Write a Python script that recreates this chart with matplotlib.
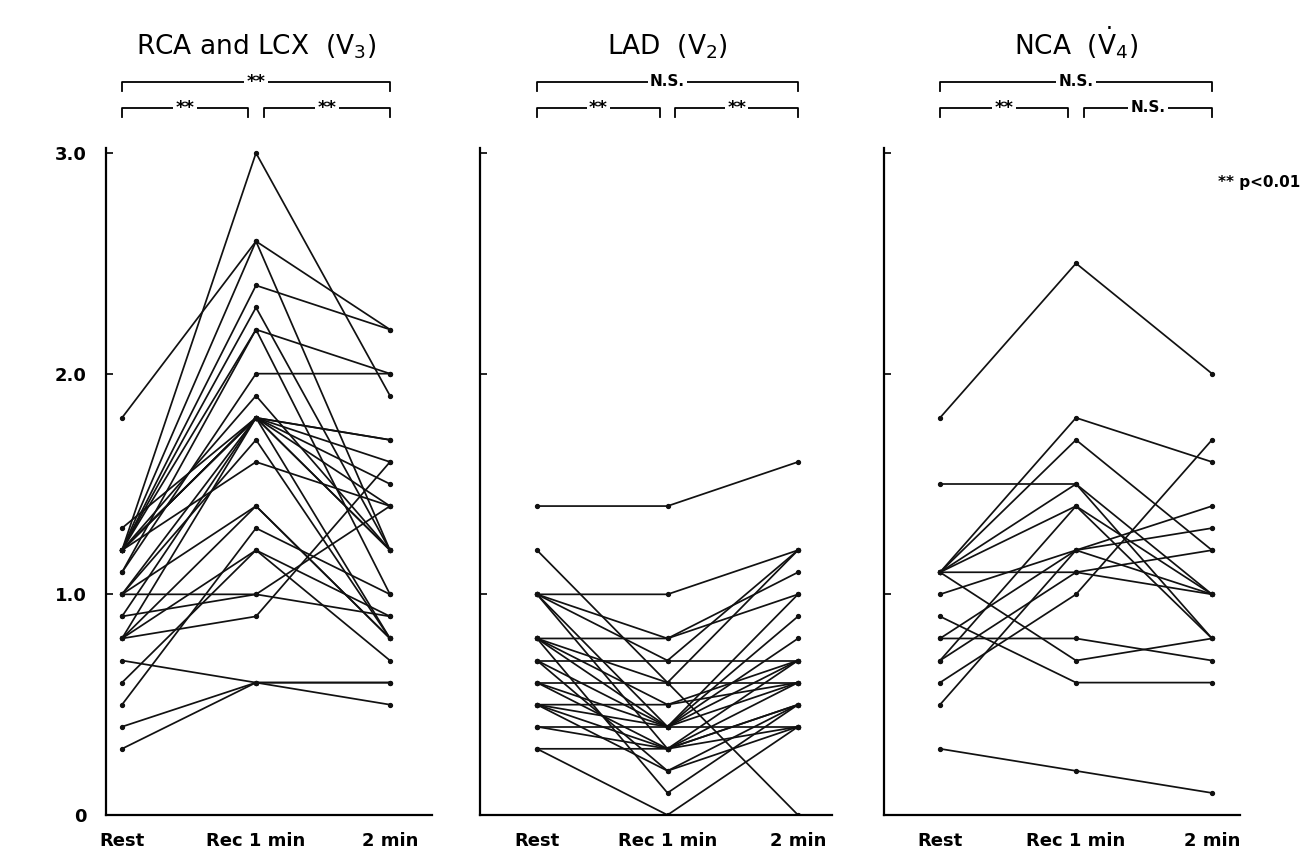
import matplotlib
matplotlib.use('Agg')
import matplotlib.pyplot as plt

stages = ['Rest', 'Rec 1 min', '2 min']

# RCA and LCX (V3): rest, rec 1 min, 2 min for each patient
rca_rest = [1.8, 1.2, 1.2, 1.2, 1.2, 1.2, 1.1, 1.2, 1.2, 1.2, 1.0, 0.9, 0.8, 1.2, 1.3,
            1.0, 1.2, 0.8, 0.5, 0.8, 1.0, 0.8, 0.7, 0.4, 0.3, 0.6, 0.9, 1.1, 1.2, 1.0]
rca_rec1 = [2.6, 3.0, 2.6, 2.4, 2.3, 2.2, 2.0, 1.9, 1.8, 1.8, 1.8, 1.8, 1.8, 1.8, 1.8,
            1.7, 1.6, 1.4, 1.3, 1.2, 1.0, 0.9, 0.6, 0.6, 0.6, 1.2, 1.0, 2.2, 1.8, 1.4]
rca_min2 = [2.2, 1.9, 1.2, 2.2, 1.2, 2.0, 2.0, 1.2, 1.7, 1.7, 1.6, 1.5, 1.4, 0.8, 1.2,
            0.8, 1.4, 0.8, 1.0, 0.7, 1.4, 1.6, 0.6, 0.5, 0.6, 0.9, 0.9, 1.0, 1.2, 0.8]

# LAD (V2)
lad_rest = [1.4, 1.2, 1.0, 1.0, 1.0, 1.0, 1.0, 0.8, 0.8, 0.8, 0.8, 0.7, 0.7, 0.7,
            0.6, 0.6, 0.6, 0.5, 0.5, 0.5, 0.4, 0.4, 0.3, 0.3, 0.5, 0.8]
lad_rec1 = [1.4, 0.6, 1.0, 0.8, 0.7, 0.4, 0.3, 0.8, 0.5, 0.1, 0.4, 0.7, 0.4, 0.2,
            0.6, 0.4, 0.3, 0.5, 0.3, 0.2, 0.4, 0.3, 0.3, 0.0, 0.4, 0.6]
lad_min2 = [1.6, 0.0, 1.2, 1.0, 1.2, 0.8, 0.6, 1.1, 0.7, 0.5, 0.6, 0.7, 0.9, 0.5,
            0.6, 0.7, 0.4, 0.6, 0.5, 0.4, 0.4, 0.7, 0.5, 0.4, 1.0, 1.2]

# NCA (V4)
nca_rest = [1.8, 1.5, 1.1, 1.1, 1.1, 1.1, 1.1, 1.0, 0.9, 0.8, 0.8, 0.7, 0.6, 0.5,
            0.3, 1.1, 0.7]
nca_rec1 = [2.5, 1.5, 1.8, 1.7, 1.4, 1.1, 0.7, 1.2, 0.6, 0.8, 1.2, 1.1, 1.0, 1.2,
            0.2, 1.5, 1.4]
nca_min2 = [2.0, 0.8, 1.6, 1.2, 0.8, 1.0, 0.8, 1.4, 0.6, 0.7, 1.3, 1.2, 1.7, 1.0,
            0.1, 1.0, 1.0]

titles = ['RCA and LCX  (V$_3$)', 'LAD  (V$_2$)', 'NCA  ($\\dot{\\mathrm{V}}_4$)']
sig_all = ['**', 'N.S.', 'N.S.']
sig_left = ['**', '**', '**']
sig_right = ['**', '**', 'N.S.']

W, H = 1305, 868
fig = plt.figure(figsize=(W / 100, H / 100), dpi=100)

# panel geometry in pixels: left spine, x of Rest, x of 2 min, right end
panels = [(106, 122, 390, 432), (480, 537, 798, 832), (884, 940, 1212, 1240)]
y0, y3 = 815, 153   # pixel rows of 0 and 3.0
ytop = 148

data = [(rca_rest, rca_rec1, rca_min2),
        (lad_rest, lad_rec1, lad_min2),
        (nca_rest, nca_rec1, nca_min2)]

for i, (left, xr, x2, right) in enumerate(panels):
    ppu = (x2 - xr) / 2.0
    ax = fig.add_axes([left / W, (H - y0) / H, (right - left) / W, (y0 - ytop) / H])
    ax.set_xlim((left - xr) / ppu, (right - xr) / ppu)
    yppu = (y0 - y3) / 3.0
    ax.set_ylim(0, (y0 - ytop) / yppu)

    rest, rec1, min2 = data[i]
    for a, b, c in zip(rest, rec1, min2):
        ax.plot([0, 1, 2], [a, b, c], color='#111111', lw=1.25, marker='o', ms=2.8,
                solid_joinstyle='miter')

    for s in ['top', 'right']:
        ax.spines[s].set_visible(False)
    for s in ['left', 'bottom']:
        ax.spines[s].set_linewidth(1.6)
    ax.set_xticks([0, 1, 2])
    ax.set_xticklabels(stages, fontsize=13, fontweight='bold')
    ax.tick_params(axis='x', length=0, pad=12)
    ax.set_yticks([0, 1, 2, 3])
    ax.tick_params(axis='y', direction='in', length=5, width=1.2)
    if i == 0:
        ax.set_yticklabels(['0', '1.0', '2.0', '3.0'], fontsize=13, fontweight='bold')
        ax.tick_params(axis='y', pad=14)
    else:
        ax.set_yticklabels([])

    # title
    ax.text(1, (y0 - 55) / yppu, titles[i], ha='center', va='baseline', fontsize=19,
            clip_on=False)

    # significance brackets
    yt = (y0 - 82) / yppu
    yl = (y0 - 108) / yppu
    dt = 9 / yppu
    kw = dict(color='black', lw=1.3, clip_on=False)
    ax.plot([0, 0, 2, 2], [yt - dt, yt, yt, yt - dt], **kw)
    ax.plot([0, 0, 0.94, 0.94], [yl - dt, yl, yl, yl - dt], **kw)
    ax.plot([1.06, 1.06, 2, 2], [yl - dt, yl, yl, yl - dt], **kw)
    tkw = dict(ha='center', va='center', fontweight='bold', clip_on=False,
               bbox=dict(facecolor='white', edgecolor='none', pad=1.5))
    ax.text(1, yt, sig_all[i], fontsize=13 if sig_all[i] == '**' else 11, **tkw)
    ax.text(0.47, yl, sig_left[i], fontsize=13 if sig_left[i] == '**' else 11, **tkw)
    ax.text(1.53, yl, sig_right[i], fontsize=13 if sig_right[i] == '**' else 11, **tkw)

fig.text(1300 / W, 1 - 183 / H, '** p<0.01', ha='right', va='center',
         fontsize=11, fontweight='bold')

fig.savefig('out.png', dpi=100, facecolor='white')
